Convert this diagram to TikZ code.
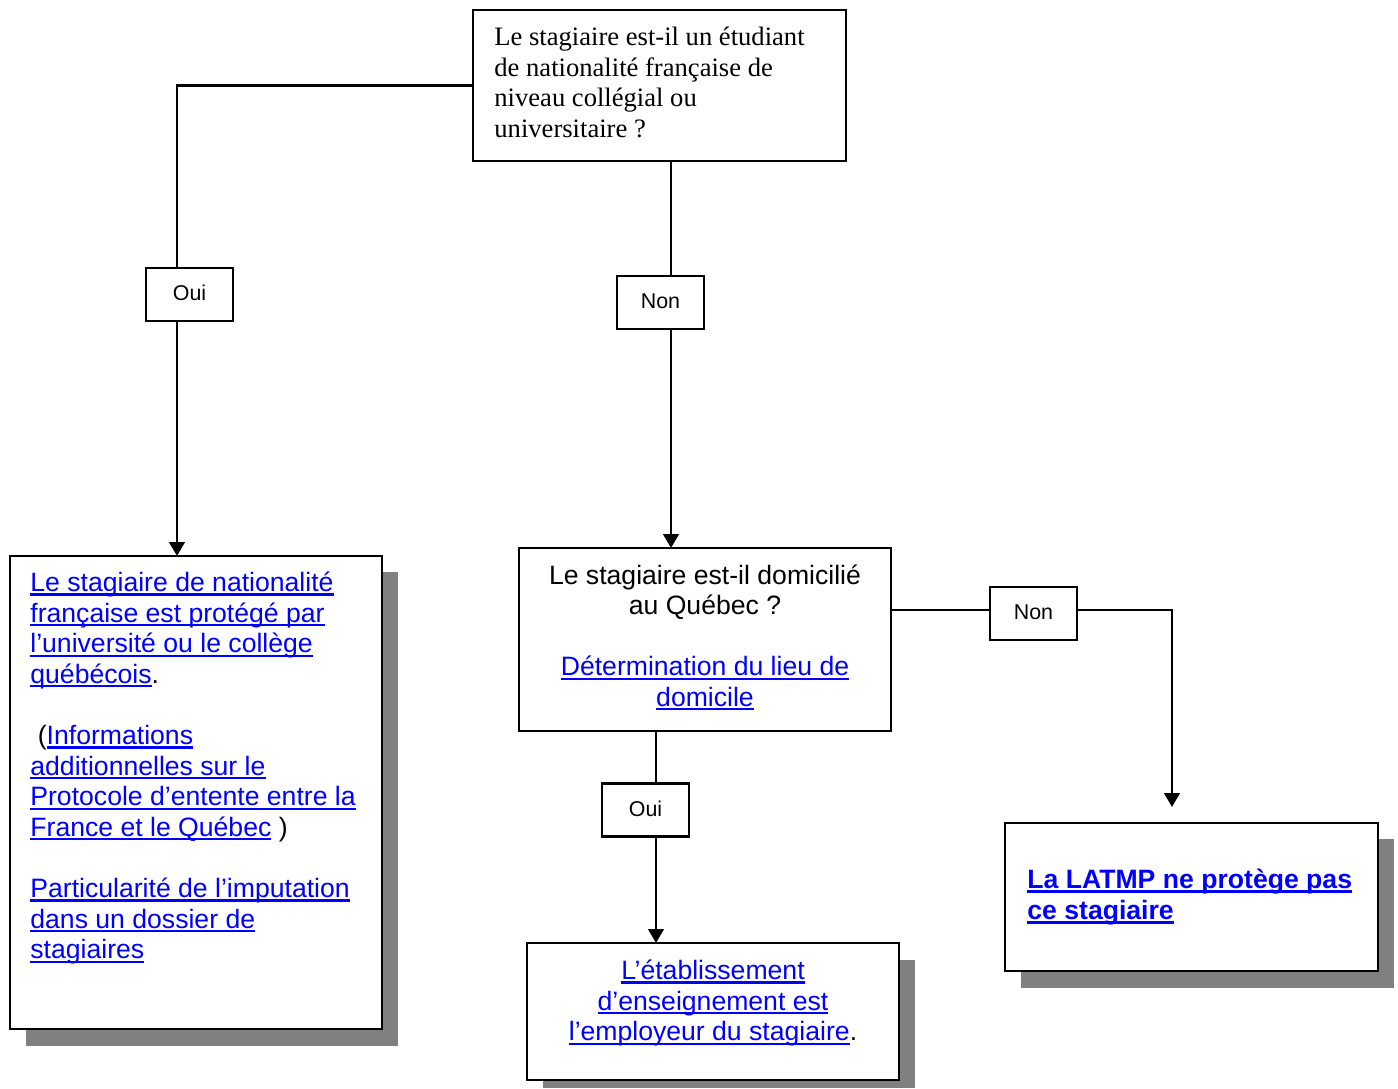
\documentclass[tikz,border=0pt]{standalone}
\usepackage{fontspec}
\setmainfont{Liberation Serif}
\setsansfont{Liberation Sans}
\usetikzlibrary{arrows.meta}
\definecolor{linkblue}{RGB}{0,0,255}
\definecolor{shadowgray}{RGB}{128,128,128}
\newcommand\lk[1]{{\color{linkblue}\setbox0\hbox{#1}\rlap{\rule[-2pt]{\wd0}{1.1pt}}\box0}}
\newcommand\lkb[1]{{\color{linkblue}\setbox0\hbox{#1}\rlap{\rule[-2.4pt]{\wd0}{1.5pt}}\box0}}
\begin{document}
\begin{tikzpicture}[x=0.5pt,y=-0.5pt,
  box/.style={draw, line width=1.4pt, fill=white, inner sep=0pt, outer sep=0pt},
  shade/.style={fill=shadowgray, draw=none},
  lbl/.style={draw, line width=1.1pt, fill=white, inner sep=0pt, outer sep=0pt,
    minimum width=43.5pt, minimum height=26.5pt, font=\sffamily\fontsize{10.7}{12}\selectfont},
  conn/.style={line width=1.15pt},
  arr/.style={conn, -{Triangle[width=7.8pt,length=7pt]}},
  sftext/.style={inner sep=0pt, font=\sffamily\fontsize{13.3}{15.3}\selectfont},
  rmtext/.style={inner sep=0pt, font=\rmfamily\fontsize{13.3}{15.3}\selectfont},
]
\useasboundingbox (0,0) rectangle (1398,1088);
% shadows
\fill[shade] (26,572) rectangle (398,1046);
\fill[shade] (543,960) rectangle (915,1088);
\fill[shade] (1021,839) rectangle (1394,988);
% boxes
\node[box, minimum width=186.5pt, minimum height=75.5pt] (top) at (659.5,85.5) {};
\node[box, minimum width=186pt, minimum height=236.5pt] (left) at (196,792.5) {};
\node[box, minimum width=186pt, minimum height=91.5pt] (mid) at (705,639.5) {};
\node[box, minimum width=186pt, minimum height=68.5pt] (bot) at (713,1011.5) {};
\node[box, minimum width=186.5pt, minimum height=74pt] (right) at (1191.5,897) {};
% labels
\node[lbl] (oui1) at (189.5,294.5) {\raisebox{1.5pt}{Oui}};
\node[lbl] (non1) at (660.5,302.5) {\raisebox{1.5pt}{Non}};
\node[lbl] (non2) at (1033.5,613.5) {\raisebox{1.5pt}{Non}};
\node[lbl] (oui2) at (645.5,810) {\raisebox{1.5pt}{Oui}};
% connectors
\coordinate (k1) at (177,85.5);
\draw[conn] (top.west) -- (k1) -- (k1 |- oui1.north);
\draw[arr] (k1 |- oui1.south) -- (k1 |- left.north);
\coordinate (k2) at (671,0);
\draw[conn] (top.south -| k2) -- (non1.north -| k2);
\draw[arr] (non1.south -| k2) -- (mid.north -| k2);
\coordinate (k3) at (0,610);
\draw[conn] (mid.east |- k3) -- (non2.west |- k3);
\coordinate (k4) at (1172,807);
\draw[arr] (non2.east |- k3) -| (k4);
\coordinate (k5) at (656,0);
\draw[conn] (mid.south -| k5) -- (oui2.north -| k5);
\draw[arr] (oui2.south -| k5) -- (bot.north -| k5);
% texts (base anchor = baseline of last line)
\node[rmtext, anchor=base west, align=left] (toptxt) at (494,137.5)
  {Le stagiaire est-il un étudiant\\de nationalité française de\\niveau collégial ou\\universitaire ?};
\node[sftext, anchor=base west, align=left] (lefttxt) at (30,958.7)
  {\lk{Le stagiaire de nationalité}\\\lk{française est protégé par}\\\lk{l’université ou le collège}\\\lk{québécois}.\\[15.3pt]
   \hspace*{0.28em}(\lk{Informations}\\\lk{additionnelles sur le}\\\lk{Protocole d’entente entre la}\\\lk{France et le Québec} )\\[15.3pt]
   \lk{Particularité de l’imputation}\\\lk{dans un dossier de}\\\lk{stagiaires}};
\node[sftext, anchor=base, align=center] (midtxt) at (705,706.4)
  {Le stagiaire est-il domicilié\\au Québec ?\\[15.3pt]\lk{Détermination du lieu de}\\\lk{domicile}};
\node[sftext, anchor=base, align=center] (bottxt) at (713,1040.7)
  {\lk{L’établissement}\\\lk{d’enseignement est}\\\lk{l’employeur du stagiaire}.};
\node[sftext, anchor=base west, align=left, font=\sffamily\bfseries\fontsize{13.3}{15.3}\selectfont] (righttxt) at (1027,919.1)
  {\lkb{La LATMP ne protège pas}\\\lkb{ce stagiaire}};
\end{tikzpicture}
\end{document}
